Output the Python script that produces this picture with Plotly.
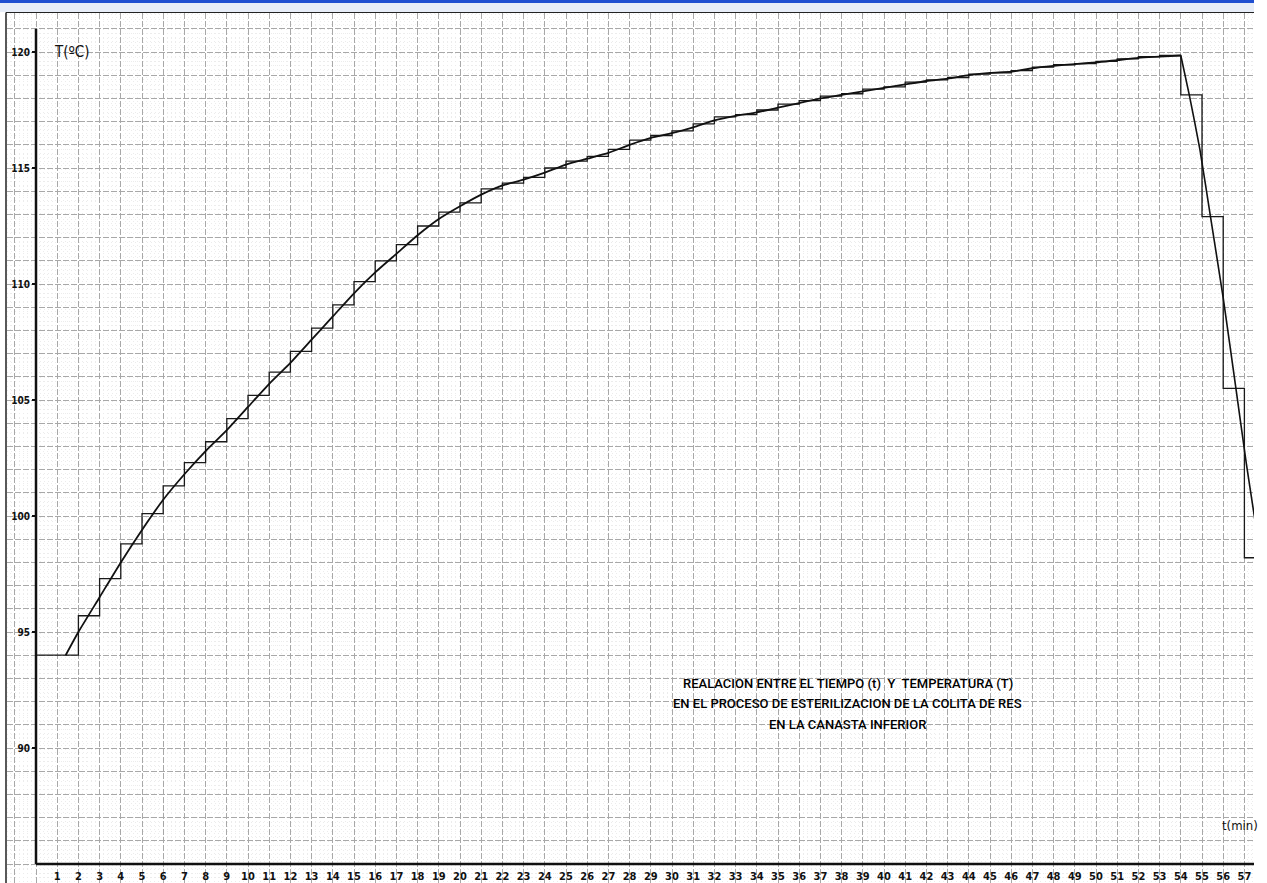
import plotly.graph_objects as go

# Registro por minuto (escalones): temperatura en cada intervalo [t, t+1)
t_min = list(range(0, 58))
T_reg = [
    94.0, 94.0, 95.7, 97.3, 98.8, 100.1, 101.3, 102.3, 103.2, 104.2,
    105.2, 106.2, 107.1, 108.1, 109.1, 110.1, 111.0, 111.7, 112.5, 113.1,
    113.5, 114.1, 114.35, 114.6, 115.0, 115.3, 115.5, 115.8, 116.2, 116.4,
    116.6, 116.9, 117.2, 117.3, 117.5, 117.75, 117.9, 118.1, 118.2, 118.4,
    118.5, 118.7, 118.8, 118.9, 119.05, 119.1, 119.2, 119.35, 119.45, 119.5,
    119.6, 119.7, 119.8, 119.85, 118.15, 112.9, 105.5, 98.2,
]

# Curva suavizada: calentamiento
curva_sub_t = [1.4, 2, 3, 4, 5, 6, 7, 8, 9, 10, 11, 12, 13, 14, 15, 16, 17, 18,
               19, 20, 21, 22, 23, 24, 25, 26, 27, 28, 29, 30, 31, 32, 33, 34,
               35, 36, 37, 38, 39, 40, 41, 42, 43, 44, 45, 46, 47, 48, 49, 50,
               51, 52, 53, 54]
curva_sub_T = [94.0, 95.0, 96.5, 98.0, 99.4, 100.7, 101.8, 102.8, 103.7, 104.7,
               105.7, 106.6, 107.6, 108.6, 109.6, 110.5, 111.3, 112.1, 112.8,
               113.35, 113.85, 114.25, 114.5, 114.8, 115.15, 115.4, 115.65,
               116.0, 116.3, 116.5, 116.75, 117.05, 117.25, 117.4, 117.6, 117.8,
               118.0, 118.15, 118.3, 118.45, 118.6, 118.75, 118.85, 119.0,
               119.1, 119.15, 119.3, 119.4, 119.48, 119.55, 119.65, 119.75,
               119.8, 119.85]

# Curva suavizada: enfriamiento
curva_baj_t = [54.0, 54.4, 54.9, 55.4, 56.0, 56.6, 57.1, 57.6]
curva_baj_T = [119.85, 118.15, 115.8, 112.9, 109.4, 105.5, 102.2, 99.2]

x_etiquetas = list(range(1, 58))
y_etiquetas = [90, 95, 100, 105, 110, 115, 120]

titulo = [
    "REALACION ENTRE EL TIEMPO (t)  Y  TEMPERATURA (T)",
    "EN EL PROCESO DE ESTERILIZACION DE LA COLITA DE RES",
    "EN LA CANASTA INFERIOR",
]

X_RANGO = [-1.368, 57.453]
Y_RANGO = [84.181, 121.681]

mano_x = dict(family="DejaVu Sans Condensed, DejaVu Sans, sans-serif",
              size=11, color="#111111", weight="bold")
mano_y = dict(family="DejaVu Sans Condensed, DejaVu Sans, sans-serif",
              size=10, color="#111111", weight="bold")
narrow = "Liberation Sans Narrow, Arial Narrow, Roboto, sans-serif"

fig = go.Figure()

# Eje base vacío: sólo sostiene la cuadrícula milimetrada
fig.add_trace(go.Scatter(x=[], y=[], xaxis="x", yaxis="y", showlegend=False))

fig.add_trace(go.Scatter(
    x=t_min + [58], y=T_reg + [T_reg[-1]], mode="lines",
    line=dict(shape="hv", color="#1a1a1a", width=1.3),
    xaxis="x2", yaxis="y2", showlegend=False, hoverinfo="skip"))

fig.add_trace(go.Scatter(
    x=curva_sub_t, y=curva_sub_T, mode="lines",
    line=dict(shape="spline", smoothing=0.6, color="#111111", width=1.8),
    xaxis="x2", yaxis="y2", showlegend=False))

fig.add_trace(go.Scatter(
    x=curva_baj_t, y=curva_baj_T, mode="lines",
    line=dict(shape="spline", smoothing=0.5, color="#111111", width=1.6),
    xaxis="x2", yaxis="y2", showlegend=False))

grid_major = "#a8a8a8"
grid_minor = "#ececec"

fig.update_layout(
    width=1267, height=883,
    margin=dict(l=7, r=13, t=13, b=0),
    paper_bgcolor="white", plot_bgcolor="white",
    xaxis=dict(range=X_RANGO, showticklabels=False, ticks="", zeroline=False,
               showline=False, tick0=0, dtick=1, showgrid=True,
               gridcolor=grid_major, gridwidth=1, griddash="6px,2px",
               minor=dict(dtick=0.2, tick0=0, showgrid=True,
                          gridcolor=grid_minor, griddash="1px,3px", gridwidth=1)),
    yaxis=dict(range=Y_RANGO, showticklabels=False, ticks="", zeroline=False,
               showline=False, tick0=0, dtick=1, showgrid=True,
               gridcolor=grid_major, gridwidth=1, griddash="6px,2px",
               minor=dict(dtick=0.2, tick0=0, showgrid=True,
                          gridcolor=grid_minor, griddash="1px,3px", gridwidth=1)),
    xaxis2=dict(range=X_RANGO, overlaying="x", anchor="free",
                position=(85 - Y_RANGO[0]) / (Y_RANGO[1] - Y_RANGO[0]),
                tickmode="array", tickvals=x_etiquetas,
                ticktext=[str(v) for v in x_etiquetas],
                ticks="", showgrid=False, zeroline=False, showline=False,
                tickfont=mano_x, tickangle=0, ticklabelstandoff=4),
    yaxis2=dict(range=Y_RANGO, overlaying="y", anchor="free",
                position=(0 - X_RANGO[0]) / (X_RANGO[1] - X_RANGO[0]),
                tickmode="array", tickvals=y_etiquetas,
                ticktext=[str(v) for v in y_etiquetas],
                ticks="outside", ticklen=4, tickwidth=1.5, tickcolor="#111",
                showgrid=False, zeroline=False, showline=False,
                tickfont=mano_y),
)

# Ejes dibujados a mano
fig.add_shape(type="line", xref="x2", yref="y2", x0=0, x1=0, y0=85, y1=121,
              line=dict(color="#111111", width=2.5))
fig.add_shape(type="line", xref="x2", yref="y2", x0=0, x1=58, y0=85, y1=85,
              line=dict(color="#111111", width=2.5))

# Marco de la hoja escaneada y barra del visor
py = lambda p: 1 + (13 - p) / 870.0
px = lambda p: (p - 7) / 1247.0
fig.add_shape(type="rect", xref="paper", yref="paper", x0=px(0), x1=px(1254),
              y0=py(3), y1=py(12), fillcolor="#e7edf8", line=dict(width=0),
              layer="above")
fig.add_shape(type="rect", xref="paper", yref="paper", x0=px(0), x1=px(1254),
              y0=py(0), y1=py(3), fillcolor="#1f4fd1", line=dict(width=0),
              layer="above")
fig.add_shape(type="line", xref="paper", yref="paper", x0=px(6), x1=px(1254),
              y0=py(12.5), y1=py(12.5), line=dict(color="#222", width=1.2))
fig.add_shape(type="line", xref="paper", yref="paper", x0=px(6), x1=px(6),
              y0=py(12.5), y1=0, line=dict(color="#222", width=1.5))

# Rótulos de los ejes
fig.add_annotation(x=0.75, y=120, xref="x2", yref="y2", text="T(ºC)",
                   showarrow=False, xanchor="left", yanchor="middle",
                   font=dict(family="DejaVu Sans Condensed, sans-serif",
                             size=15, color="#111"))
fig.add_annotation(x=55.85, y=86.65, xref="x2", yref="y2", text="t(min)",
                   showarrow=False, xanchor="left", yanchor="middle",
                   font=dict(family="DejaVu Sans Condensed, sans-serif",
                             size=13, color="#111"))

# Título dentro del área de la gráfica
for texto, yy in zip(titulo, [92.80, 91.90, 91.03]):
    fig.add_annotation(x=38.3, y=yy, xref="x2", yref="y2", text=texto,
                       showarrow=False, xanchor="center", yanchor="middle",
                       font=dict(family=narrow, size=13, color="#000",
                                 weight=500))

fig.write_html("out.html")
